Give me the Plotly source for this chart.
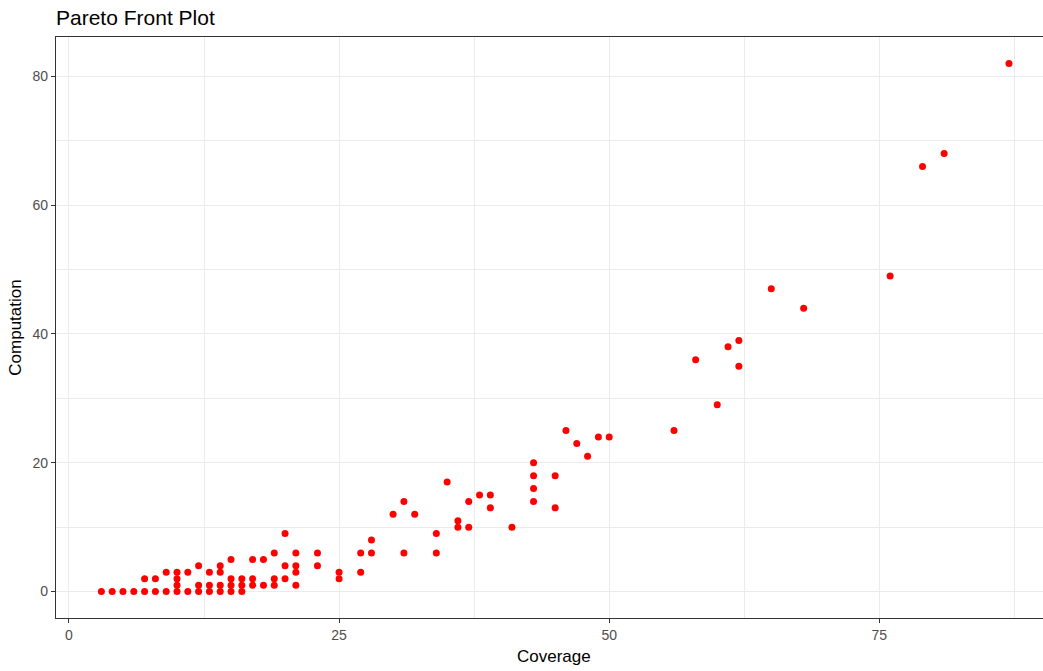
import plotly.graph_objects as go

# Pareto front solutions: coverage vs. computation cost (rows kept in step)
coverage = [
    3, 4, 5, 6, 7, 8, 9, 10, 11, 12, 13, 14, 15, 16,
    7, 8, 9, 10, 10, 10, 11, 12, 12, 13, 13, 14, 14, 14,
    15, 15, 15, 16, 16, 17, 17, 17, 18, 18, 19, 19, 19,
    20, 20, 20, 21, 21, 21, 21, 23, 23, 25, 25, 27, 27, 28, 28,
    30, 31, 31, 32, 34, 34, 35, 36, 36, 37, 37, 38, 39, 39, 41,
    43, 43, 43, 43, 45, 45, 46, 47, 48, 49, 50,
    56, 58, 60, 61, 62, 62, 65, 68, 76, 79, 81, 87,
]
computation = [
    0, 0, 0, 0, 0, 0, 0, 0, 0, 0, 0, 0, 0, 0,
    2, 2, 3, 1, 2, 3, 3, 1, 4, 1, 3, 1, 3, 4,
    1, 2, 5, 1, 2, 1, 2, 5, 1, 5, 1, 2, 6,
    2, 4, 9, 1, 3, 4, 6, 4, 6, 2, 3, 3, 6, 6, 8,
    12, 6, 14, 12, 6, 9, 17, 10, 11, 10, 14, 15, 13, 15, 10,
    14, 16, 18, 20, 13, 18, 25, 23, 21, 24, 24,
    25, 36, 29, 38, 35, 39, 47, 44, 49, 66, 68, 82,
]

x_ticks = [0, 25, 50, 75]
y_ticks = [0, 20, 40, 60, 80]

FONT = "Liberation Sans, Arial, sans-serif"

fig = go.Figure(
    go.Scatter(
        x=coverage,
        y=computation,
        mode="markers",
        marker=dict(color="#FF0000", size=7, line=dict(width=0)),
        showlegend=False,
    )
)

axis_common = dict(
    showgrid=True,
    gridcolor="#EBEBEB",
    gridwidth=1.1,
    zeroline=False,
    showline=True,
    linecolor="#333333",
    linewidth=1.2,
    ticks="outside",
    ticklen=4,
    tickwidth=1.1,
    tickcolor="#333333",
    tickfont=dict(family=FONT, size=14, color="#4D4D4D"),
)

fig.update_layout(
    width=1043,
    height=671,
    margin=dict(l=56, r=0, t=37, b=53),
    paper_bgcolor="white",
    plot_bgcolor="white",
    title=dict(
        text="Pareto Front Plot",
        font=dict(family=FONT, size=21, color="black"),
        x=0,
        xref="paper",
        xanchor="left",
        y=1 - 18 / 671,
        yref="container",
        yanchor="middle",
    ),
    xaxis=dict(
        **axis_common,
        range=[-1.2, 90.15],
        tickvals=x_ticks,
        ticktext=[str(v) for v in x_ticks],
        mirror=True,
        minor=dict(showgrid=True, dtick=12.5, tick0=0, gridcolor="#EBEBEB", gridwidth=0.6),
    ),
    yaxis=dict(
        **axis_common,
        range=[-4.1, 86.1],
        tickvals=y_ticks,
        ticktext=[str(v) for v in y_ticks],
        minor=dict(showgrid=True, dtick=10, tick0=0, gridcolor="#EBEBEB", gridwidth=0.6),
        title=dict(text="Computation", font=dict(family=FONT, size=17, color="black"), standoff=6),
    ),
    # x-axis title centred on the full panel, which runs slightly past the right edge
    annotations=[
        dict(
            text="Coverage",
            font=dict(family=FONT, size=17, color="black"),
            xref="paper",
            x=0.5046,
            xanchor="center",
            yref="paper",
            y=0,
            yanchor="top",
            yshift=-27,
            showarrow=False,
        )
    ],
)

fig.write_html("out.html")
